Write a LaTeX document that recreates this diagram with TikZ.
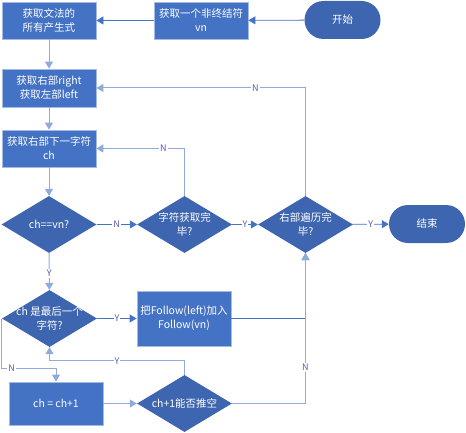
\documentclass[tikz,border=0pt]{standalone}
\usepackage{fontspec}
\setmainfont{Noto Sans CJK SC}
\usepackage{tikz}
\usetikzlibrary{shapes.geometric, arrows.meta}
\definecolor{boxblue}{HTML}{4472C4}
\definecolor{darkblue}{HTML}{3E65AF}
\definecolor{edgeblue}{HTML}{A6BBE2}
\definecolor{lineblue}{HTML}{4472C4}
\definecolor{paleblue}{HTML}{8FAADC}
\definecolor{labcol}{HTML}{5A55C0}

\begin{document}
\begin{tikzpicture}[x=1pt, y=-1pt,
  font=\fontsize{10.5}{14}\selectfont,
  box/.style={draw=edgeblue, line width=0.8pt, fill=boxblue, text=white, align=center, minimum width=94pt, minimum height=37pt, inner sep=1pt},
  term/.style={fill=darkblue, text=white, rounded corners=19pt, minimum width=76pt, minimum height=38pt},
  decision/.style={diamond, fill=darkblue, minimum width=95pt, minimum height=57pt, inner sep=0pt},
  dtext/.style={text=white, align=center},
  arr/.style={draw=lineblue, line width=0.8pt, -{Triangle[length=7pt, width=8pt]}},
  parr/.style={arr, draw=paleblue, line width=1pt},
  lab/.style={fill=white, text=labcol, font=\fontsize{9}{10}\selectfont, inner sep=1pt}]
\useasboundingbox (0,0) rectangle (466,433);

% top row
\node[term] (start) at (342.5, 20) {开始};
\node[box] (getvn) at (201, 20.5) {获取一个非终结符\\vn};
\node[box] (prods) at (49, 20.5) {获取文法的\\所有产生式};
\node[box, minimum height=38pt] (split) at (49, 88) {获取右部right\\获取左部left};
\node[box] (next) at (49, 148.5) {获取右部下一字符\\ch};

% middle row of decisions
\node[decision, label={[dtext]center:ch==vn?}] (eqvn) at (49, 224.5) {};
\node[decision, label={[dtext]center:{字符获取完\\毕?}}] (chdone) at (184.5, 224.5) {};
\node[decision, label={[dtext]center:{右部遍历完\\毕?}}] (rdone) at (305.5, 224.5) {};
\node[term] (stop) at (427, 224) {结束};

% lower part
\node[decision, label={[dtext]center:{ch 是最后一个\\字符?}}] (islast) at (49.5, 318.5) {};
\node[box, minimum height=55pt] (addfol) at (184, 318.5) {把Follow(left)加入\\Follow(vn)};
\node[box, minimum height=43pt] (inc) at (56, 403.5) {ch = ch+1};
\node[decision, label={[dtext]center:ch+1能否推空}] (canempty) at (184.5, 403.5) {};

\draw[arr] (start) -- (getvn);
\draw[arr] (getvn) -- (prods);
\draw[parr] (prods) -- (split);
\draw[parr] (split) -- (next);
\draw[parr] (next) -- (eqvn);
\draw[arr] (eqvn) -- node[lab] {N} (chdone);
\draw[parr] (chdone.north) |- node[lab, pos=0.62] {N} (next.east);
\draw[arr] (chdone) -- node[lab] {Y} (rdone);
\draw[arr] (rdone) -- node[lab] {Y} (stop);
\draw[parr] (rdone.north) |- node[lab, pos=0.62] {N} (split.east);
\draw[parr] (eqvn) -- node[lab, pos=0.55] {Y} (islast);
\draw[arr] (islast) -- node[lab] {Y} (addfol);
\draw[arr] (addfol.east) -| (rdone.south);
\draw[parr] (islast.west) -- ++(0, 50) -| node[lab, pos=0.09] {N} (inc.north);
\draw[parr] (inc) -- (canempty);
\draw[parr] (canempty.north) -- ++(0, -14) -| node[lab, pos=0.25] {Y} (islast.south);
\draw[parr] (canempty.east) -| node[lab, pos=0.62] {N} (rdone.south);
\end{tikzpicture}
\end{document}
